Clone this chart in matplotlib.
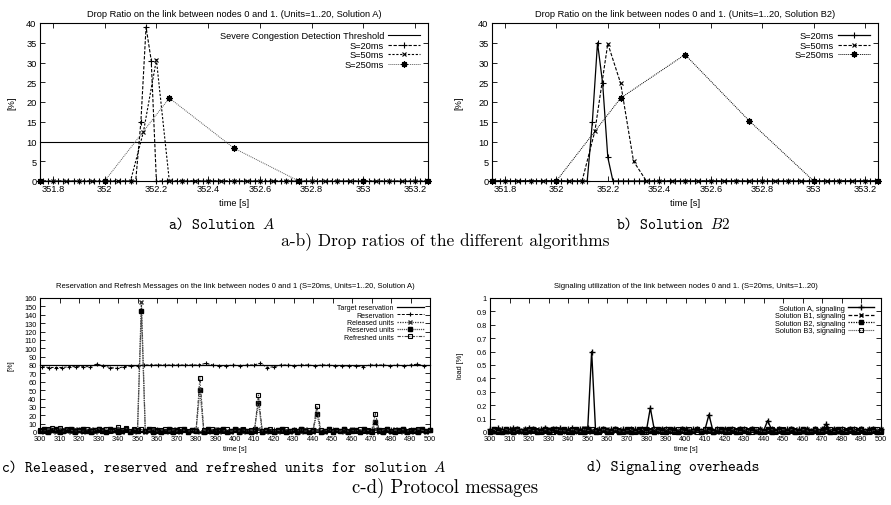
import matplotlib.pyplot as plt
import numpy as np
from matplotlib.ticker import FormatStrFormatter, MultipleLocator

W, H = 891, 506

# --- a/b) drop ratio, time in seconds ---
S20_T = 351.76 + 0.02 * np.arange(75)
S50_T = 351.75 + 0.05 * np.arange(31)
S250_T = [351.75, 352.0, 352.25, 352.5, 352.75, 353.0, 353.25]

A_S20 = [0] * 19 + [15, 39, 30.5] + [0] * 53
A_S50 = [0] * 8 + [12.5, 30.7] + [0] * 21
A_S250 = [0, 0, 21, 8.3, 0, 0, 0]
THRESHOLD = 10

B2_S20 = [0] * 19 + [15, 35, 24.7, 6] + [0] * 52
B2_S50 = [0] * 8 + [12.7, 34.8, 24.7, 5] + [0] * 19
B2_S250 = [0, 0, 21, 32, 15.2, 0, 0]

# --- c) messages, sampled every 2 s from 300 to 500 ---
T2 = np.arange(300, 501, 2)
TARGET = 80

RELEASED = [2, 0, 3, 1, 0, 2, 4, 1, 0, 3,
            1, 0, 2, 3, 0, 1, 3, 0, 2, 1,
            3, 0, 2, 1, 0, 2, 155, 0, 1, 3,
            0, 2, 1, 0, 3, 1, 0, 2, 0, 1,
            3, 0, 2, 0, 1, 3, 0, 2, 1, 0,
            2, 3, 0, 1, 2, 0, 3, 1, 0, 2,
            1, 0, 3, 2, 0, 1, 2, 0, 3, 1,
            0, 2, 1, 0, 3, 0, 2, 1, 0, 2,
            3, 1, 0, 2, 0, 1, 3, 0, 2, 1,
            0, 3, 1, 0, 2, 1, 0, 3, 1, 0,
            2]
RESERVED = [1, 3, 0, 2, 3, 0, 1, 2, 4, 0,
            2, 3, 1, 0, 2, 4, 1, 0, 3, 2,
            0, 1, 3, 0, 2, 1, 145, 1, 3, 0,
            2, 0, 1, 3, 0, 2, 1, 3, 0, 2,
            1, 50, 0, 3, 1, 0, 2, 3, 0, 1,
            3, 0, 2, 1, 0, 3, 35, 0, 2, 1,
            0, 2, 3, 0, 1, 2, 0, 3, 1, 0,
            2, 22, 0, 1, 3, 0, 2, 1, 3, 0,
            1, 2, 0, 3, 1, 0, 12, 2, 0, 3,
            1, 0, 2, 3, 0, 1, 2, 0, 3, 1,
            2]
REFRESHED = [2, 1, 3, 5, 2, 5, 1, 4, 2, 1,
             2, 1, 3, 1, 2, 4, 2, 4, 1, 2,
             6, 2, 5, 1, 4, 2, 3, 1, 2, 3,
             1, 2, 3, 1, 2, 1, 3, 2, 1, 2,
             1, 65, 2, 1, 3, 1, 2, 1, 3, 1,
             2, 1, 3, 1, 2, 1, 44, 1, 2, 3,
             1, 2, 1, 3, 1, 2, 1, 3, 1, 2,
             1, 31, 2, 1, 3, 1, 2, 1, 3, 1,
             2, 1, 3, 1, 2, 1, 22, 1, 2, 3,
             1, 2, 1, 3, 1, 2, 1, 3, 2, 1,
             2]

RES_T = 301 + 3.5 * np.arange(57)
RESERVATION = [78, 77, 77, 77, 78, 78, 78, 78, 81, 79,
               77, 76, 78, 79, 79, 80, 80, 80, 80, 80,
               80, 80, 80, 80, 82, 80, 79, 79, 80, 79,
               80, 80, 82, 77, 78, 80, 80, 79, 80, 80,
               79, 80, 80, 79, 79, 79, 79, 78, 80, 80,
               80, 79, 80, 79, 80, 81, 79]

# --- d) signaling load, in hundredths of a percent, every 2 s ---
SIG_A = [2, 1, 3, 2, 1, 2, 3, 2, 1, 2,
         3, 2, 1, 2, 3, 1, 2, 2, 3, 1,
         2, 3, 1, 2, 2, 3, 60, 1, 2, 2,
         1, 2, 2, 1, 2, 1, 2, 2, 1, 2,
         1, 18, 2, 1, 2, 2, 1, 2, 1, 2,
         2, 1, 2, 2, 1, 2, 13, 1, 2, 1,
         2, 1, 2, 1, 2, 2, 1, 2, 1, 2,
         1, 8.5, 2, 1, 2, 1, 2, 2, 1, 2,
         1, 2, 1, 2, 1, 2, 6, 1, 2, 1,
         2, 1, 2, 2, 1, 2, 1, 2, 2, 1,
         2]
SIG_B1 = [1, 0, 2, 1, 0, 1, 2, 0, 1, 2,
          0, 1, 2, 1, 0, 2, 1, 0, 2, 1,
          1, 0, 2, 1, 3, 0, 1, 2, 0, 1,
          2, 0, 1, 2, 1, 0, 2, 1, 0, 2,
          1, 2, 0, 1, 2, 0, 1, 2, 1, 0,
          2, 1, 0, 2, 1, 0, 2, 1, 0, 1,
          2, 0, 1, 2, 0, 1, 2, 1, 0, 2,
          1, 0, 2, 1, 0, 2, 1, 0, 2, 1,
          0, 2, 1, 0, 1, 2, 0, 1, 2, 0,
          1, 2, 0, 1, 2, 0, 1, 2, 0, 1,
          2]
SIG_B2 = [0, 2, 1, 0, 2, 1, 0, 2, 1, 0,
          1, 2, 0, 1, 2, 0, 2, 1, 0, 2,
          1, 0, 2, 1, 0, 2, 1, 0, 1, 2,
          0, 1, 2, 0, 1, 2, 0, 1, 2, 0,
          2, 1, 0, 2, 1, 0, 2, 1, 0, 2,
          1, 0, 1, 2, 0, 1, 2, 0, 1, 2,
          0, 2, 1, 0, 2, 1, 0, 2, 1, 0,
          1, 2, 0, 1, 2, 0, 1, 2, 0, 1,
          2, 0, 1, 2, 0, 1, 2, 0, 1, 2,
          0, 1, 2, 0, 1, 2, 0, 1, 2, 0,
          1]
SIG_B3 = [1, 2, 0, 1, 2, 1, 0, 2, 1, 0,
          2, 1, 1, 0, 2, 1, 0, 2, 1, 1,
          0, 2, 1, 0, 2, 1, 2, 1, 0, 2,
          1, 0, 2, 1, 0, 1, 2, 0, 1, 2,
          0, 1, 2, 1, 0, 2, 1, 0, 2, 1,
          0, 2, 1, 0, 1, 2, 1, 0, 2, 1,
          1, 0, 2, 1, 0, 2, 1, 0, 2, 1,
          0, 1, 2, 0, 1, 2, 0, 2, 1, 0,
          2, 1, 0, 2, 1, 0, 1, 2, 0, 1,
          2, 0, 1, 2, 0, 2, 1, 0, 1, 2,
          0]

plt.rcParams['font.family'] = ['Liberation Sans', 'DejaVu Sans']
plt.rcParams['mathtext.fontset'] = 'cm'

DASH = (0, (3, 1.5))
SHORT = (0, (2, 1.5))
DOT = (0, (1, 1))
DASHDOT = (0, (3, 1.2, 1, 1.2))
ASTER = (8, 2, 0)


def style_axes(ax, fs):
    ax.tick_params(direction='in', top=True, right=True, length=3.5,
                   width=0.6, labelsize=fs, pad=2.5)
    for sp in ax.spines.values():
        sp.set_linewidth(0.8)
    for line in ax.get_lines():
        line.set_clip_on(False)


def legend(ax, fs, hl):
    ax.legend(loc='upper right', fontsize=fs, frameon=False, markerfirst=False,
              handlelength=hl, handletextpad=0.4, labelspacing=0.05,
              borderpad=0.3, borderaxespad=0.6)


def drop_axes(ax, title):
    ax.set_xlim(351.75, 353.25)
    ax.set_ylim(0, 40)
    ax.xaxis.set_major_locator(MultipleLocator(0.2))
    ax.xaxis.set_major_formatter(FormatStrFormatter('%g'))
    ax.yaxis.set_major_locator(MultipleLocator(5))
    ax.set_title(title, fontsize=6.7, pad=5)
    ax.set_xlabel('time [s]', fontsize=6.7, labelpad=3)
    ax.set_ylabel('[%]', fontsize=6.7)
    style_axes(ax, 6.7)


def msg_axes(ax, title, ylabel):
    ax.set_xlim(300, 500)
    ax.xaxis.set_major_locator(MultipleLocator(10))
    ax.set_title(title, fontsize=5.5, pad=8)
    ax.set_xlabel('time [s]', fontsize=5.3, labelpad=2)
    ax.set_ylabel(ylabel, fontsize=5.3)
    style_axes(ax, 5.3)


def main():
    fig = plt.figure(figsize=(W / 100, H / 100), dpi=100)

    # a) Solution A
    ax = fig.add_axes([40 / W, 1 - 182 / H, 388 / W, 158 / H])
    ax.plot([351.75, 353.25], [THRESHOLD, THRESHOLD], color='black', lw=0.8,
            label='Severe Congestion Detection Threshold')
    ax.plot(S20_T, A_S20, color='black', lw=0.8, ls=DASH, marker='+', ms=4,
            mew=0.8, label='S=20ms')
    ax.plot(S50_T, A_S50, color='black', lw=0.8, ls=SHORT, marker='x', ms=3.5,
            mew=0.8, label='S=50ms')
    ax.plot(S250_T, A_S250, color='0.35', lw=0.7, ls=DOT, marker=ASTER, ms=4.5,
            mec='black', mew=0.9, label='S=250ms')
    drop_axes(ax, 'Drop Ratio on the link between nodes 0 and 1. (Units=1..20, Solution A)')
    ax.yaxis.set_label_coords(-0.06, 0.5)
    legend(ax, 6.7, 3.4)

    # b) Solution B2
    ax = fig.add_axes([492 / W, 1 - 182 / H, 386 / W, 158 / H])
    ax.plot(S20_T, B2_S20, color='black', lw=0.9, marker='+', ms=4, mew=0.8,
            label='S=20ms')
    ax.plot(S50_T, B2_S50, color='black', lw=0.8, ls=DASH, marker='x', ms=3.5,
            mew=0.8, label='S=50ms')
    ax.plot(S250_T, B2_S250, color='black', lw=0.7, ls=DOT, marker=ASTER, ms=4.5,
            mew=0.9, label='S=250ms')
    drop_axes(ax, 'Drop Ratio on the link between nodes 0 and 1. (Units=1..20, Solution B2)')
    ax.yaxis.set_label_coords(-0.073, 0.5)
    legend(ax, 6.7, 3.4)

    # c) reservation and refresh messages
    ax = fig.add_axes([40 / W, 1 - 433 / H, 390 / W, 134 / H])
    ax.plot([300, 500], [TARGET, TARGET], color='black', lw=0.9,
            label='Target reservation')
    ax.plot(RES_T, RESERVATION, color='black', lw=0.7, ls=DASH, marker='+',
            ms=3, mew=0.8, label='Reservation')
    ax.plot(T2, RELEASED, color='0.2', lw=0.9, ls=DOT, marker='x', ms=3.5,
            mew=1, label='Released units')
    ax.plot(T2, RESERVED, color='0.3', lw=0.9, ls=(0, (1, 0.7)), marker='s',
            ms=3, mfc='black', mec='black', label='Reserved units')
    ax.plot(T2, REFRESHED, color='0.25', lw=0.8, ls=DASHDOT, marker='s', ms=3.5,
            mfc='none', mec='black', mew=0.8, label='Refreshed units')
    ax.set_ylim(0, 160)
    ax.yaxis.set_major_locator(MultipleLocator(10))
    msg_axes(ax, 'Reservation and Refresh Messages on the link between nodes 0 and 1 '
                 '(S=20ms, Units=1..20, Solution A)', '[%]')
    ax.yaxis.set_label_coords(-0.065, 0.5)
    legend(ax, 5, 3.9)

    # d) signaling overhead
    ax = fig.add_axes([490 / W, 1 - 433 / H, 391 / W, 134 / H])
    ax.plot(T2, np.array(SIG_A) / 100, color='black', lw=1, marker='+', ms=4,
            mew=1, label='Solution A, signaling')
    ax.plot(T2, np.array(SIG_B1) / 100, color='black', lw=0.9, ls=DASH, marker='x',
            ms=3.5, mew=1, label='Solution B1, signaling')
    ax.plot(T2, np.array(SIG_B2) / 100, color='black', lw=0.9, ls=DOT, marker='s',
            ms=3, label='Solution B2, signaling')
    ax.plot(T2, np.array(SIG_B3) / 100, color='0.35', lw=0.8, ls=(0, (1, 0.7)),
            marker='s', ms=3.5, mfc='none', mec='black', mew=0.8,
            label='Solution B3, signaling')
    ax.set_ylim(0, 1)
    ax.yaxis.set_major_locator(MultipleLocator(0.1))
    ax.yaxis.set_major_formatter(FormatStrFormatter('%g'))
    msg_axes(ax, 'Signaling utilization of the link between nodes 0 and 1. '
                 '(S=20ms, Units=1..20)', 'load [%]')
    ax.yaxis.set_label_coords(-0.066, 0.5)
    legend(ax, 5.3, 3.6)

    # sub-figure captions
    def caption(x, y, s, family, size):
        fig.text(x / W, 1 - y / H, s, ha='center', va='center',
                 family=family, fontsize=size)

    caption(222, 224, 'a) Solution $A$', 'cmtt10', 10.8)
    caption(673, 224, 'b) Solution $B2$', 'cmtt10', 10.8)
    caption(445, 241, 'a-b) Drop ratios of the different algorithms', 'cmr10', 12.5)
    caption(224, 467, 'c) Released, reserved and refreshed units for solution $A$',
            'cmtt10', 10.8)
    caption(673, 467, 'd) Signaling overheads', 'cmtt10', 10.8)
    caption(445, 488, 'c-d) Protocol messages', 'cmr10', 13.5)

    fig.savefig('out.png', dpi=100)
    plt.close(fig)


if __name__ == '__main__':
    main()
